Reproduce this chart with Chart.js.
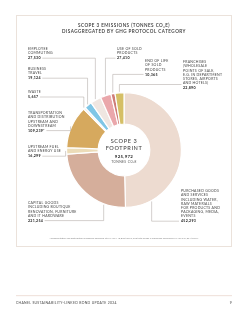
<!DOCTYPE html>
<html>
<head>
<meta charset="utf-8">
<script src="https://cdn.jsdelivr.net/npm/chart.js@4.4.1/dist/chart.umd.min.js"></script>
<style>
  html, body { margin: 0; padding: 0; background: #fff; }
  #wrap { position: relative; width: 248px; height: 320px; }
  canvas { display: block; }
</style>
</head>
<body>
<div id="wrap"><canvas id="chart" width="248" height="320"></canvas></div>
<script>
// Scope 3 categories, clockwise from 12 o'clock
const categories = [
    ["PURCHASED GOODS", "AND SERVICES", "INCLUDING WATER,", "RAW MATERIALS", "FOR PRODUCTS AND", "PACKAGING, MEDIA,", "EVENTS"],
    ["CAPITAL GOODS", "INCLUDING BOUTIQUE", "RENOVATION, FURNITURE", "AND IT HARDWARE"],
    ["UPSTREAM FUEL", "AND ENERGY USE"],
    ["TRANSPORTATION", "AND DISTRIBUTION", "UPSTREAM AND", "DOWNSTREAM"],
    ["WASTE"],
    ["BUSINESS", "TRAVEL"],
    ["EMPLOYEE", "COMMUTING"],
    ["USE OF SOLD", "PRODUCTS"],
    ["END OF LIFE", "OF SOLD", "PRODUCTS"],
    ["FRANCHISES", "(WHOLESALE", "POINTS OF SALE,", "E.G. IN DEPARTMENT", "STORES, AIRPORTS", "AND HOTELS)"]
];
const emissions = [452293, 221254, 16299, 109239, 5657, 19124, 27530, 27410, 10365, 22890];
const valueLabels = ["452,293", "221,254", "16,299", "109,239*", "5,657", "19,124", "27,530", "27,410", "10,365", "22,890"];
const totalLabel = "925,972";

const sliceColors = ["#eddbd0", "#d5ae9b", "#ecdcb8", "#d6a95e", "#f4efea",
                     "#7fc6e6", "#efe6e1", "#eaa7ab", "#cf7d78", "#d5bf66"];

// where each callout text sits and how its leader runs (t = point along the slice)
const callouts = [
    { i: 6, x: 28, y: 49, side: "L" },
    { i: 5, x: 28, y: 69, side: "L" },
    { i: 4, x: 28, y: 92, side: "L" },
    { i: 3, x: 28, y: 113, side: "L" },
    { i: 2, x: 28, y: 147, side: "L" },
    { i: 1, x: 28, y: 203, side: "L", t: 0.25 },
    { i: 7, x: 117, y: 49, side: "R" },
    { i: 8, x: 145, y: 61, side: "R" },
    { i: 9, x: 183, y: 62, side: "R", lineY: 84.5 },
    { i: 0, x: 181, y: 191, side: "R", t: 0.85 }
];

const LINE_H = 4.2;
const FONT = "Lato, 'DejaVu Sans', sans-serif";

const decorPlugin = {
    id: "decor",
    beforeDraw(chart) {
        const ctx = chart.ctx;
        ctx.save();
        ctx.strokeStyle = "#ebe2db";
        ctx.lineWidth = 1;
        ctx.strokeRect(16.5, 15.5, 215, 231);
        // footer rule
        ctx.fillStyle = "#f1e4de";
        ctx.fillRect(16, 295, 216, 1.2);
        ctx.restore();
    },
    afterDraw(chart) {
        const ctx = chart.ctx;
        const meta = chart.getDatasetMeta(0);
        const arc0 = meta.data[0];
        const cx = arc0.x, cy = arc0.y, R = arc0.outerRadius;
        ctx.save();
        ctx.textBaseline = "middle";

        // title
        ctx.fillStyle = "#333";
        ctx.textAlign = "center";
        ctx.font = "600 4.6px " + FONT;
        ctx.letterSpacing = "0.45px";
        ctx.fillText("SCOPE 3 EMISSIONS (TONNES CO\u2082E)", 124, 25.5);
        ctx.fillText("DISAGGREGATED BY GHG PROTOCOL CATEGORY", 124, 31.2);

        // centre text
        ctx.font = "500 5.6px " + FONT;
        ctx.letterSpacing = "0.6px";
        ctx.fillStyle = "#444";
        ctx.fillText("SCOPE 3", cx, cy - 9);
        ctx.fillText("FOOTPRINT", cx, cy - 2);
        ctx.font = "700 4.4px " + FONT;
        ctx.letterSpacing = "0.3px";
        ctx.fillStyle = "#2e2e2e";
        ctx.fillText(totalLabel, cx, cy + 7);
        ctx.font = "400 3.3px " + FONT;
        ctx.letterSpacing = "0.35px";
        ctx.fillStyle = "#555";
        ctx.fillText("TONNES CO\u2082E", cx, cy + 12);

        // callouts
        ctx.textAlign = "left";
        callouts.forEach(c => {
            const lines = categories[c.i];
            ctx.font = "400 3.5px " + FONT;
            ctx.letterSpacing = "0.25px";
            ctx.fillStyle = "#444";
            lines.forEach((ln, k) => ctx.fillText(ln, c.x, c.y + k * LINE_H));
            const vy = c.y + lines.length * LINE_H + 0.8;
            ctx.font = "700 3.6px " + FONT;
            ctx.fillStyle = "#262626";
            ctx.fillText(valueLabels[c.i], c.x, vy);
            const vw = ctx.measureText(valueLabels[c.i]).width;

            // point on the slice's outer edge
            const arc = meta.data[c.i];
            const t = c.t === undefined ? 0.5 : c.t;
            const a = arc.startAngle + (arc.endAngle - arc.startAngle) * t;
            const px = cx + (R + 1) * Math.cos(a);
            const py = cy + (R + 1) * Math.sin(a);

            let sx, sy;
            if (c.side === "L") { sx = c.x + vw + 1.5; sy = c.lineY || vy; }
            else if (c.i === 0) { sx = c.x - 2; sy = vy; }
            else { sx = c.x - 1.5; sy = c.lineY || vy; }
            ctx.strokeStyle = "#a8a19c";
            ctx.lineWidth = 0.5;
            ctx.beginPath();
            ctx.moveTo(sx, sy);
            ctx.lineTo(px, sy);
            ctx.lineTo(px, py);
            ctx.stroke();
        });

        // footnote
        ctx.textAlign = "center";
        ctx.font = "400 2.4px " + FONT;
        ctx.letterSpacing = "0px";
        ctx.fillStyle = "#888";
        ctx.fillText("*Transportation and Distribution emissions assessed at SAF are 113,820 tCO\u2082e, and total Scope 3 emissions excluding SAF are 921,391 tCO\u2082e.", 124, 238.5);

        // footer
        ctx.textAlign = "left";
        ctx.font = "500 3.4px " + FONT;
        ctx.letterSpacing = "0.3px";
        ctx.fillStyle = "#555";
        ctx.fillText("CHANEL SUSTAINABILITY-LINKED BOND UPDATE 2024", 16, 303);
        ctx.textAlign = "right";
        ctx.fillText("9", 232, 303);
        ctx.restore();
    }
};

new Chart(document.getElementById("chart"), {
    type: "doughnut",
    data: {
        labels: categories,
        datasets: [{
            data: emissions,
            backgroundColor: sliceColors,
            borderColor: "#fff",
            borderWidth: 1.2
        }]
    },
    options: {
        responsive: false,
        devicePixelRatio: 1,
        animation: false,
        cutout: "45%",
        layout: { padding: { left: 66, right: 66, top: 92, bottom: 112 } },
        plugins: { legend: { display: false }, tooltip: { enabled: false } }
    },
    plugins: [decorPlugin]
});
</script>
</body>
</html>
